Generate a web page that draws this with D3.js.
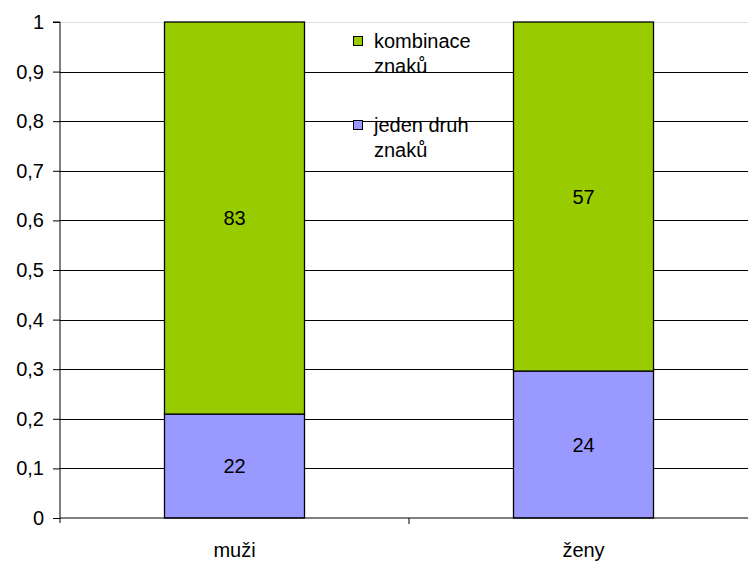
<!DOCTYPE html>
<html><head><meta charset="utf-8">
<script src="https://cdn.jsdelivr.net/npm/d3@7"></script>
<style>body{margin:0;background:#fff}svg{display:block}text{font-family:"Liberation Sans",Arial,sans-serif}</style>
</head><body>
<script>
const categories = ["muži", "ženy"];
const seriesNames = ["jeden druh znaků", "kombinace znaků"];
const jedenDruh = [22, 24];
const kombinace = [83, 57];
const yTicks = [0, 0.1, 0.2, 0.3, 0.4, 0.5, 0.6, 0.7, 0.8, 0.9, 1];
const colors = ["#9999FF", "#99CC00"];

(function () {
const W = 748, H = 561;
const FF = '"Liberation Sans",Arial,sans-serif';
const FS = 20;
const svg = d3.select("body").append("svg").attr("width", W).attr("height", H);
const mLeft = 60, mRight = 758, mTop = 22, mBottom = 518;
const y = d3.scaleLinear().domain([0, 1]).range([mBottom, mTop]);
const x = d3.scaleBand().domain(categories).range([mLeft, mRight]);
const fmt = d => d === 0 ? "0" : d === 1 ? "1" : String(d).replace(".", ",");

// gridlines
svg.append("g").selectAll("line").data(yTicks.filter(t => t > 0)).join("line")
  .attr("x1", mLeft).attr("x2", W).attr("y1", d => Math.round(y(d)) + 0.5).attr("y2", d => Math.round(y(d)) + 0.5)
  .attr("stroke", d => d === 1 ? "#e0e0e0" : "#000").attr("stroke-width", 1);

// data
const rows = categories.map((c, i) => ({cat: c, a: jedenDruh[i], b: kombinace[i], tot: jedenDruh[i] + kombinace[i]}));
const barW = 140;
rows.forEach(r => {
  const cx = x(r.cat) + x.bandwidth() / 2;
  const segs = [
    {v0: 0, v1: r.a / r.tot, val: r.a, col: colors[0]},
    {v0: r.a / r.tot, v1: 1, val: r.b, col: colors[1]}
  ];
  segs.forEach(s => {
    svg.append("rect").attr("x", cx - barW / 2).attr("width", barW)
      .attr("y", y(s.v1)).attr("height", y(s.v0) - y(s.v1))
      .attr("fill", s.col).attr("stroke", "#000").attr("stroke-width", 1.3);
    svg.append("text").attr("x", cx).attr("y", y((s.v0 + s.v1) / 2)).attr("dy", "0.35em")
      .attr("text-anchor", "middle").attr("font-size", FS).text(s.val);
  });
});

// y axis
const ya = d3.axisLeft(y).tickValues(yTicks).tickFormat(fmt).tickSize(7).tickPadding(9);
const gy = svg.append("g").attr("transform", `translate(${mLeft},0)`).call(ya);
gy.attr("font-family", FF).attr("font-size", FS);
gy.selectAll("text").attr("font-size", FS).attr("fill", "#000").style("font-family", FF);
gy.selectAll("line").attr("stroke", "#000");
gy.select(".domain").attr("stroke", "#000").attr("d", `M-7,${mTop}H0V${mBottom + 5}`);

// x axis
svg.append("line").attr("x1", mLeft).attr("x2", W).attr("y1", mBottom).attr("y2", mBottom).attr("stroke", "#000");
const bounds = [mLeft + x.bandwidth()];
svg.append("g").selectAll("line").data(bounds).join("line")
  .attr("x1", d => d).attr("x2", d => d).attr("y1", mBottom).attr("y2", mBottom + 6).attr("stroke", "#000");
svg.append("g").selectAll("text").data(categories).join("text")
  .attr("x", d => x(d) + x.bandwidth() / 2).attr("y", 557).attr("text-anchor", "middle")
  .attr("font-size", FS).text(d => d);

// legend
const legend = [
  {name: ["kombinace", "znaků"], col: colors[1], y: 41},
  {name: ["jeden druh", "znaků"], col: colors[0], y: 125}
];
legend.forEach(l => {
  svg.append("rect").attr("x", 353.5).attr("y", l.y - 4.5).attr("width", 9).attr("height", 9)
    .attr("fill", l.col).attr("stroke", "#000").attr("stroke-width", 1);
  l.name.forEach((t, i) => {
    svg.append("text").attr("x", 374).attr("y", l.y + i * 25).attr("dy", "0.35em")
      .attr("font-size", FS).text(t);
  });
});
})();
</script>
</body></html>
